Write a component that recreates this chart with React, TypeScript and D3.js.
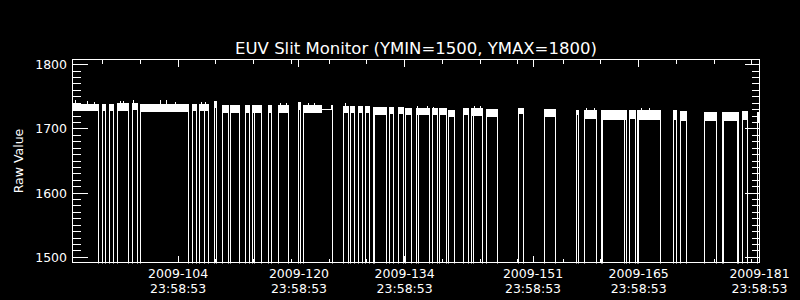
import React from "react";
import * as d3 from "d3";

// ---- data (time in day-of-year 2009, fractional) ----
const X_DOMAIN: [number, number] = [91, 182];
const Y_DOMAIN: [number, number] = [1492, 1808];
const Y_MAJOR = [1500, 1600, 1700, 1800];
const X_MAJOR = [105, 121, 135, 152, 166, 182];
const X_LABEL_DAYS = ["2009-104", "2009-120", "2009-134", "2009-151", "2009-165", "2009-181"];
const X_LABEL_TIMES = ["23:58:53", "23:58:53", "23:58:53", "23:58:53", "23:58:53", "23:58:53"];
const X_MINOR = [95, 100, 110, 115, 120, 125, 130, 140, 145, 150, 156, 161, 171, 176, 181];
const TITLE = "EUV Slit Monitor (YMIN=1500, YMAX=1800)";
const Y_TITLE = "Raw Value";

// valid-data stretches: [start, end, low, high]
const SEGMENTS: [number, number, number, number][] = [
  [91.0, 94.41, 1728, 1739],
  [95.0, 95.39, 1728, 1739],
  [95.96, 96.4, 1728, 1739],
  [96.93, 98.39, 1728, 1740],
  [98.92, 99.6, 1729, 1740],
  [100.03, 106.33, 1727, 1739],
  [106.86, 107.39, 1728, 1739],
  [107.88, 108.98, 1728, 1739],
  [109.86, 110.09, 1733, 1743],
  [110.88, 111.62, 1725, 1737],
  [111.94, 113.1, 1725, 1737],
  [113.97, 114.49, 1725, 1737],
  [114.85, 116.04, 1725, 1737],
  [116.92, 117.37, 1725, 1737],
  [118.24, 119.56, 1724, 1737],
  [120.98, 121.21, 1730, 1742],
  [121.64, 123.99, 1724, 1737],
  [125.31, 125.4, 1730, 1737],
  [126.84, 127.51, 1724, 1735],
  [127.82, 128.39, 1724, 1735],
  [128.83, 129.41, 1724, 1736],
  [129.85, 130.38, 1724, 1735],
  [130.82, 132.59, 1722, 1734],
  [132.93, 133.46, 1723, 1734],
  [134.12, 134.79, 1723, 1734],
  [135.14, 135.9, 1722, 1733],
  [136.56, 138.32, 1722, 1733],
  [138.62, 139.29, 1722, 1733],
  [139.55, 140.53, 1722, 1733],
  [140.83, 141.63, 1719, 1730],
  [142.82, 143.39, 1722, 1733],
  [143.84, 145.3, 1720, 1733],
  [145.9, 147.36, 1719, 1731],
  [150.14, 150.8, 1723, 1733],
  [153.54, 155.0, 1718, 1731],
  [157.82, 158.04, 1722, 1730],
  [158.84, 160.39, 1716, 1729],
  [161.05, 164.36, 1714, 1729],
  [164.79, 165.55, 1715, 1729],
  [165.81, 168.86, 1714, 1729],
  [170.62, 170.97, 1714, 1729],
  [171.54, 172.38, 1713, 1728],
  [174.72, 176.27, 1713, 1726],
  [177.06, 179.18, 1713, 1726],
  [179.75, 180.45, 1714, 1728],
  [181.7, 182.0, 1711, 1726],
];

// straight connections across a data gap: [start, end, value]
const BRIDGES: [number, number, number][] = [[123.99, 125.31, 1730]];

// single-sample dropouts inside a stretch
const DROPOUTS = [108.54, 115.16, 131.04, 136.77, 144.14, 161.26, 164.13, 166.02, 177.23, 179.05];

// upward noise spikes: [time, value]
const SPIKES: [number, number][] = [
  [91.4, 1744.7], [92.96, 1743], [93.98, 1742], [97.4, 1744], [97.8, 1744],
  [99.1, 1745], [102.6, 1744.5], [103.5, 1744.5], [104.6, 1742], [108.1, 1742],
  [108.6, 1742], [118.5, 1740], [119.3, 1740], [122.2, 1740], [123.1, 1740],
  [127.2, 1741], [136.7, 1735.5], [138.0, 1735.5], [138.76, 1734.5], [144.3, 1735.5],
  [145.0, 1735.5], [159.1, 1731.8], [160.1, 1731.8], [166.4, 1732], [167.4, 1732],
];

const FONT = "DejaVu Sans";

export default function App() {
  const L = 72.5, R = 759.5, T = 59.5, B = 262.5;
  const x = d3.scaleLinear().domain(X_DOMAIN).range([L, R]);
  const y = d3.scaleLinear().domain(Y_DOMAIN).range([B, T]);
  const px = (v: number) => Math.round(x(v) - 0.5) + 0.5;
  const py = (v: number) => Math.round(y(v) - 0.5) + 0.5;
  const yMinor = d3.range(Y_DOMAIN[0], Y_DOMAIN[1] + 1).filter((v) => v % 10 === 0 && v % 100 !== 0);

  const findSeg = (t: number) => SEGMENTS.find((s) => t >= s[0] - 0.05 && t <= s[1] + 0.05);

  const dropLines: number[] = [];
  SEGMENTS.forEach(([t0, t1]) => {
    const startBridged = BRIDGES.some((b) => Math.abs(b[1] - t0) < 1e-6);
    const endBridged = BRIDGES.some((b) => Math.abs(b[0] - t1) < 1e-6);
    if (t0 > X_DOMAIN[0] && !startBridged) dropLines.push(t0);
    if (t1 < X_DOMAIN[1] && !endBridged) dropLines.push(t1);
  });

  return (
    <svg
      width={800}
      height={300}
      style={{ position: "absolute", left: 0, top: 0, display: "block" }}
      shapeRendering="crispEdges"
    >
      <rect x={0} y={0} width={800} height={300} fill="#000" />
      <defs>
        <clipPath id="plot">
          <rect x={L} y={T} width={R - L + 1} height={B - T + 1} />
        </clipPath>
      </defs>

      <g clipPath="url(#plot)" stroke="#fff" fill="#fff">
        {SEGMENTS.map(([t0, t1, lo, hi], i) => {
          const x0 = Math.round(x(t0) - 0.5);
          const x1 = Math.round(x(t1) - 0.5);
          return (
            <rect
              key={"s" + i}
              x={x0}
              y={Math.round(y(hi))}
              width={Math.max(1, x1 - x0 + 1)}
              height={Math.max(1, Math.round(y(lo)) - Math.round(y(hi)))}
              stroke="none"
            />
          );
        })}
        {dropLines.map((t, i) => {
          const s = findSeg(t);
          return <line key={"d" + i} x1={px(t)} x2={px(t)} y1={y(s ? s[3] : 1730)} y2={B + 2} strokeWidth={1} />;
        })}
        {DROPOUTS.map((t, i) => {
          const s = findSeg(t);
          return <line key={"o" + i} x1={px(t)} x2={px(t)} y1={y(s ? s[3] : 1730)} y2={B + 2} strokeWidth={1} />;
        })}
        {BRIDGES.map(([t0, t1, v], i) => (
          <line key={"b" + i} x1={x(t0)} x2={x(t1)} y1={py(v)} y2={py(v)} strokeWidth={1} />
        ))}
        {SPIKES.map(([t, v], i) => {
          const s = findSeg(t);
          return <line key={"p" + i} x1={px(t)} x2={px(t)} y1={y(v)} y2={y(s ? s[3] : v)} strokeWidth={1} />;
        })}
      </g>

      {/* axes box */}
      <rect x={L} y={T} width={R - L} height={B - T} fill="none" stroke="#fff" strokeWidth={1} />

      {/* y ticks */}
      <g stroke="#fff" strokeWidth={1}>
        {Y_MAJOR.map((v) => (
          <g key={"ym" + v}>
            <line x1={L} x2={L + 15} y1={py(v)} y2={py(v)} />
            <line x1={R} x2={R - 15} y1={py(v)} y2={py(v)} />
          </g>
        ))}
        {yMinor.map((v) => (
          <g key={"yn" + v}>
            <line x1={L} x2={L + 8} y1={py(v)} y2={py(v)} />
            <line x1={R} x2={R - 8} y1={py(v)} y2={py(v)} />
          </g>
        ))}
        {X_MAJOR.map((t) => (
          <g key={"xm" + t}>
            <line x1={px(t)} x2={px(t)} y1={B} y2={B - 7} />
            <line x1={px(t)} x2={px(t)} y1={T} y2={T + 7} />
          </g>
        ))}
        {X_MINOR.map((t) => (
          <g key={"xn" + t}>
            <line x1={px(t)} x2={px(t)} y1={B} y2={B - 4} />
            <line x1={px(t)} x2={px(t)} y1={T} y2={T + 4} />
          </g>
        ))}
      </g>

      {/* labels */}
      <g fill="#fff" fontFamily={FONT} fontSize={12.5} shapeRendering="auto">
        {Y_MAJOR.map((v) => (
          <text key={"yl" + v} x={67} y={y(v) + 4.6} textAnchor="end">
            {v}
          </text>
        ))}
        {X_MAJOR.map((t, i) => (
          <g key={"xl" + t}>
            <text x={x(t)} y={278} textAnchor="middle">
              {X_LABEL_DAYS[i]}
            </text>
            <text x={x(t)} y={293} textAnchor="middle">
              {X_LABEL_TIMES[i]}
            </text>
          </g>
        ))}
        <text transform={`translate(23,${(T + B) / 2}) rotate(-90)`} textAnchor="middle">
          {Y_TITLE}
        </text>
        <text x={(L + R) / 2} y={54} textAnchor="middle" fontSize={16.5}>
          {TITLE}
        </text>
      </g>
    </svg>
  );
}
